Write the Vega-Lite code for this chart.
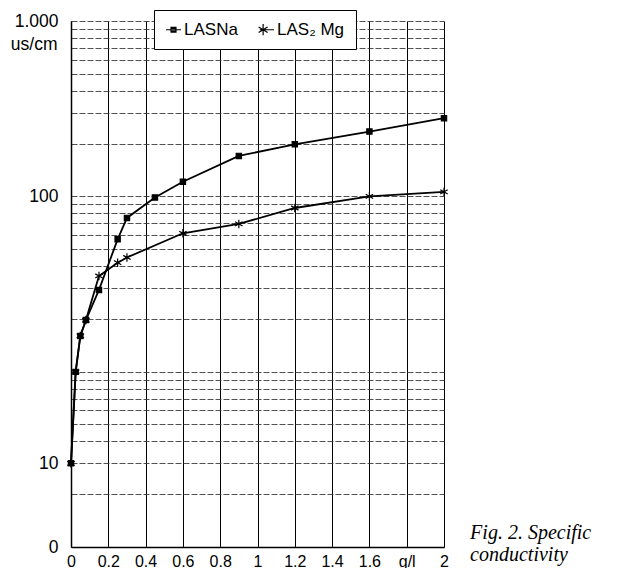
{
  "$schema": "https://vega.github.io/schema/vega-lite/v6.json",
  "width": 373,
  "height": 526,
  "autosize": "none",
  "padding": {"left": 71, "top": 21, "right": 175, "bottom": 21},
  "background": "white",
  "config": {"view": {"stroke": null}, "font": "Liberation Sans"},
  "title": {
    "text": ["Fig. 2. Specific", "conductivity"],
    "orient": "bottom",
    "anchor": "end",
    "align": "left",
    "dx": 20,
    "dy": -46,
    "offset": 0,
    "font": "Liberation Serif",
    "fontStyle": "italic",
    "fontWeight": "normal",
    "fontSize": 20,
    "lineHeight": 22,
    "color": "#000"
  },
  "data": {
    "values": [
      {"series": "LASNa", "x": 0, "y": 10},
      {"series": "LASNa", "x": 0.025, "y": 22},
      {"series": "LASNa", "x": 0.05, "y": 30},
      {"series": "LASNa", "x": 0.08, "y": 34.4},
      {"series": "LASNa", "x": 0.15, "y": 44.6},
      {"series": "LASNa", "x": 0.25, "y": 69},
      {"series": "LASNa", "x": 0.3, "y": 83},
      {"series": "LASNa", "x": 0.45, "y": 99},
      {"series": "LASNa", "x": 0.6, "y": 121},
      {"series": "LASNa", "x": 0.9, "y": 170},
      {"series": "LASNa", "x": 1.2, "y": 198},
      {"series": "LASNa", "x": 1.6, "y": 234},
      {"series": "LASNa", "x": 2, "y": 279},
      {"series": "LAS₂ Mg", "x": 0, "y": 10},
      {"series": "LAS₂ Mg", "x": 0.025, "y": 22},
      {"series": "LAS₂ Mg", "x": 0.05, "y": 30},
      {"series": "LAS₂ Mg", "x": 0.08, "y": 34.4},
      {"series": "LAS₂ Mg", "x": 0.15, "y": 50.3},
      {"series": "LAS₂ Mg", "x": 0.25, "y": 56.4},
      {"series": "LAS₂ Mg", "x": 0.3, "y": 59},
      {"series": "LAS₂ Mg", "x": 0.6, "y": 72.7},
      {"series": "LAS₂ Mg", "x": 0.9, "y": 78.8},
      {"series": "LAS₂ Mg", "x": 1.2, "y": 90.4},
      {"series": "LAS₂ Mg", "x": 1.6, "y": 100},
      {"series": "LAS₂ Mg", "x": 2, "y": 106}
    ]
  },
  "encoding": {
    "x": {
      "field": "x",
      "type": "quantitative",
      "scale": {"domain": [0, 2], "nice": false, "zero": false},
      "axis": {
        "values": [0, 0.2, 0.4, 0.6, 0.8, 1, 1.2, 1.4, 1.6, 1.8, 2],
        "title": null,
        "grid": true,
        "gridColor": "#000",
        "gridWidth": 1,
        "gridOpacity": 1,
        "ticks": false,
        "domainColor": "#000",
        "domainWidth": 1.5,
        "labelFontSize": 16,
        "labelColor": "#000",
        "labelPadding": 6,
        "labelFlush": false,
        "labelOverlap": false,
        "labelExpr": "datum.value == 1.8 ? 'g/l' : format(datum.value, '~g')"
      }
    },
    "y": {
      "field": "y",
      "type": "quantitative",
      "scale": {
        "type": "log",
        "domain": [1, 10, 100, 1000],
        "range": [526, 442.3, 175.3, 0],
        "nice": false
      },
      "axis": {
        "values": [1, 4.275, 10, 12.08, 13.98, 15.77, 17.45, 19.05, 20.58, 22.05, 34.75, 45.36, 54.8, 63.43, 71.51, 79.12, 86.38, 93.31, 100, 200, 300, 400, 500, 600, 700, 800, 900, 1000],
        "title": "us/cm",
        "titleAngle": 0,
        "titleX": -14,
        "titleY": 23,
        "titleAlign": "right",
        "titleBaseline": "middle",
        "titleFontSize": 17.5,
        "titleFontWeight": "normal",
        "titleColor": "#000",
        "grid": true,
        "gridColor": "#333",
        "gridDash": [6, 2],
        "gridWidth": 1,
        "gridOpacity": 0.85,
        "ticks": false,
        "domainColor": "#000",
        "domainWidth": 1.5,
        "labelFontSize": 17.5,
        "labelColor": "#000",
        "labelPadding": 13,
        "labelOverlap": false,
        "labelExpr": "datum.value == 1000 ? '1.000' : datum.value == 100 ? '100' : datum.value == 10 ? '10' : datum.value == 1 ? '0' : ''"
      }
    }
  },
  "layer": [
    {
      "mark": {"type": "line", "color": "#000", "strokeWidth": 1.8},
      "encoding": {"detail": {"field": "series"}}
    },
    {
      "mark": {"type": "point", "filled": true, "color": "#000", "stroke": "#000", "strokeWidth": 1.2, "size": 28, "opacity": 1},
      "encoding": {
        "shape": {
          "field": "series",
          "type": "nominal",
          "sort": ["LASNa", "LAS₂ Mg"],
          "scale": {"range": ["square", "M0,-1.6V1.6M-1.4,-0.8L1.4,0.8M-1.4,0.8L1.4,-0.8"]},
          "legend": null
        }
      }
    },
    {
      "mark": {"type": "point", "filled": false, "color": "#000", "opacity": 0},
      "encoding": {
        "shape": {
          "field": "series",
          "type": "nominal",
          "sort": ["LASNa", "LAS₂ Mg"],
          "scale": {"range": ["M-1,0H1M-0.33,-0.33H0.33V0.33H-0.33ZM-0.33,-0.17H0.33M-0.33,0.17H0.33", "M-0.9,0H1M-0.45,-0.75V0.75M-1.05,-0.38L0.15,0.38M-1.05,0.38L0.15,-0.38"]},
          "legend": {
            "orient": "none",
            "legendX": 83,
            "legendY": -11,
            "direction": "horizontal",
            "title": null,
            "strokeColor": "#000",
            "fillColor": "#fff",
            "padding": 11,
            "labelFontSize": 17,
            "labelColor": "#000",
            "labelFont": "Liberation Sans",
            "labelOffset": 2,
            "columnPadding": 18,
            "symbolSize": 225,
            "symbolFillColor": "#000",
            "symbolStrokeColor": "#000",
            "symbolStrokeWidth": 1.2,
            "symbolOpacity": 1,
            "encode": {"symbols": {"update": {"opacity": {"value": 1}, "stroke": {"value": "#000"}, "strokeOpacity": {"value": 1}, "strokeWidth": {"value": 1.2}}}}
          }
        }
      }
    }
  ],
  "resolve": {"scale": {"shape": "independent"}, "legend": {"shape": "independent"}}
}
